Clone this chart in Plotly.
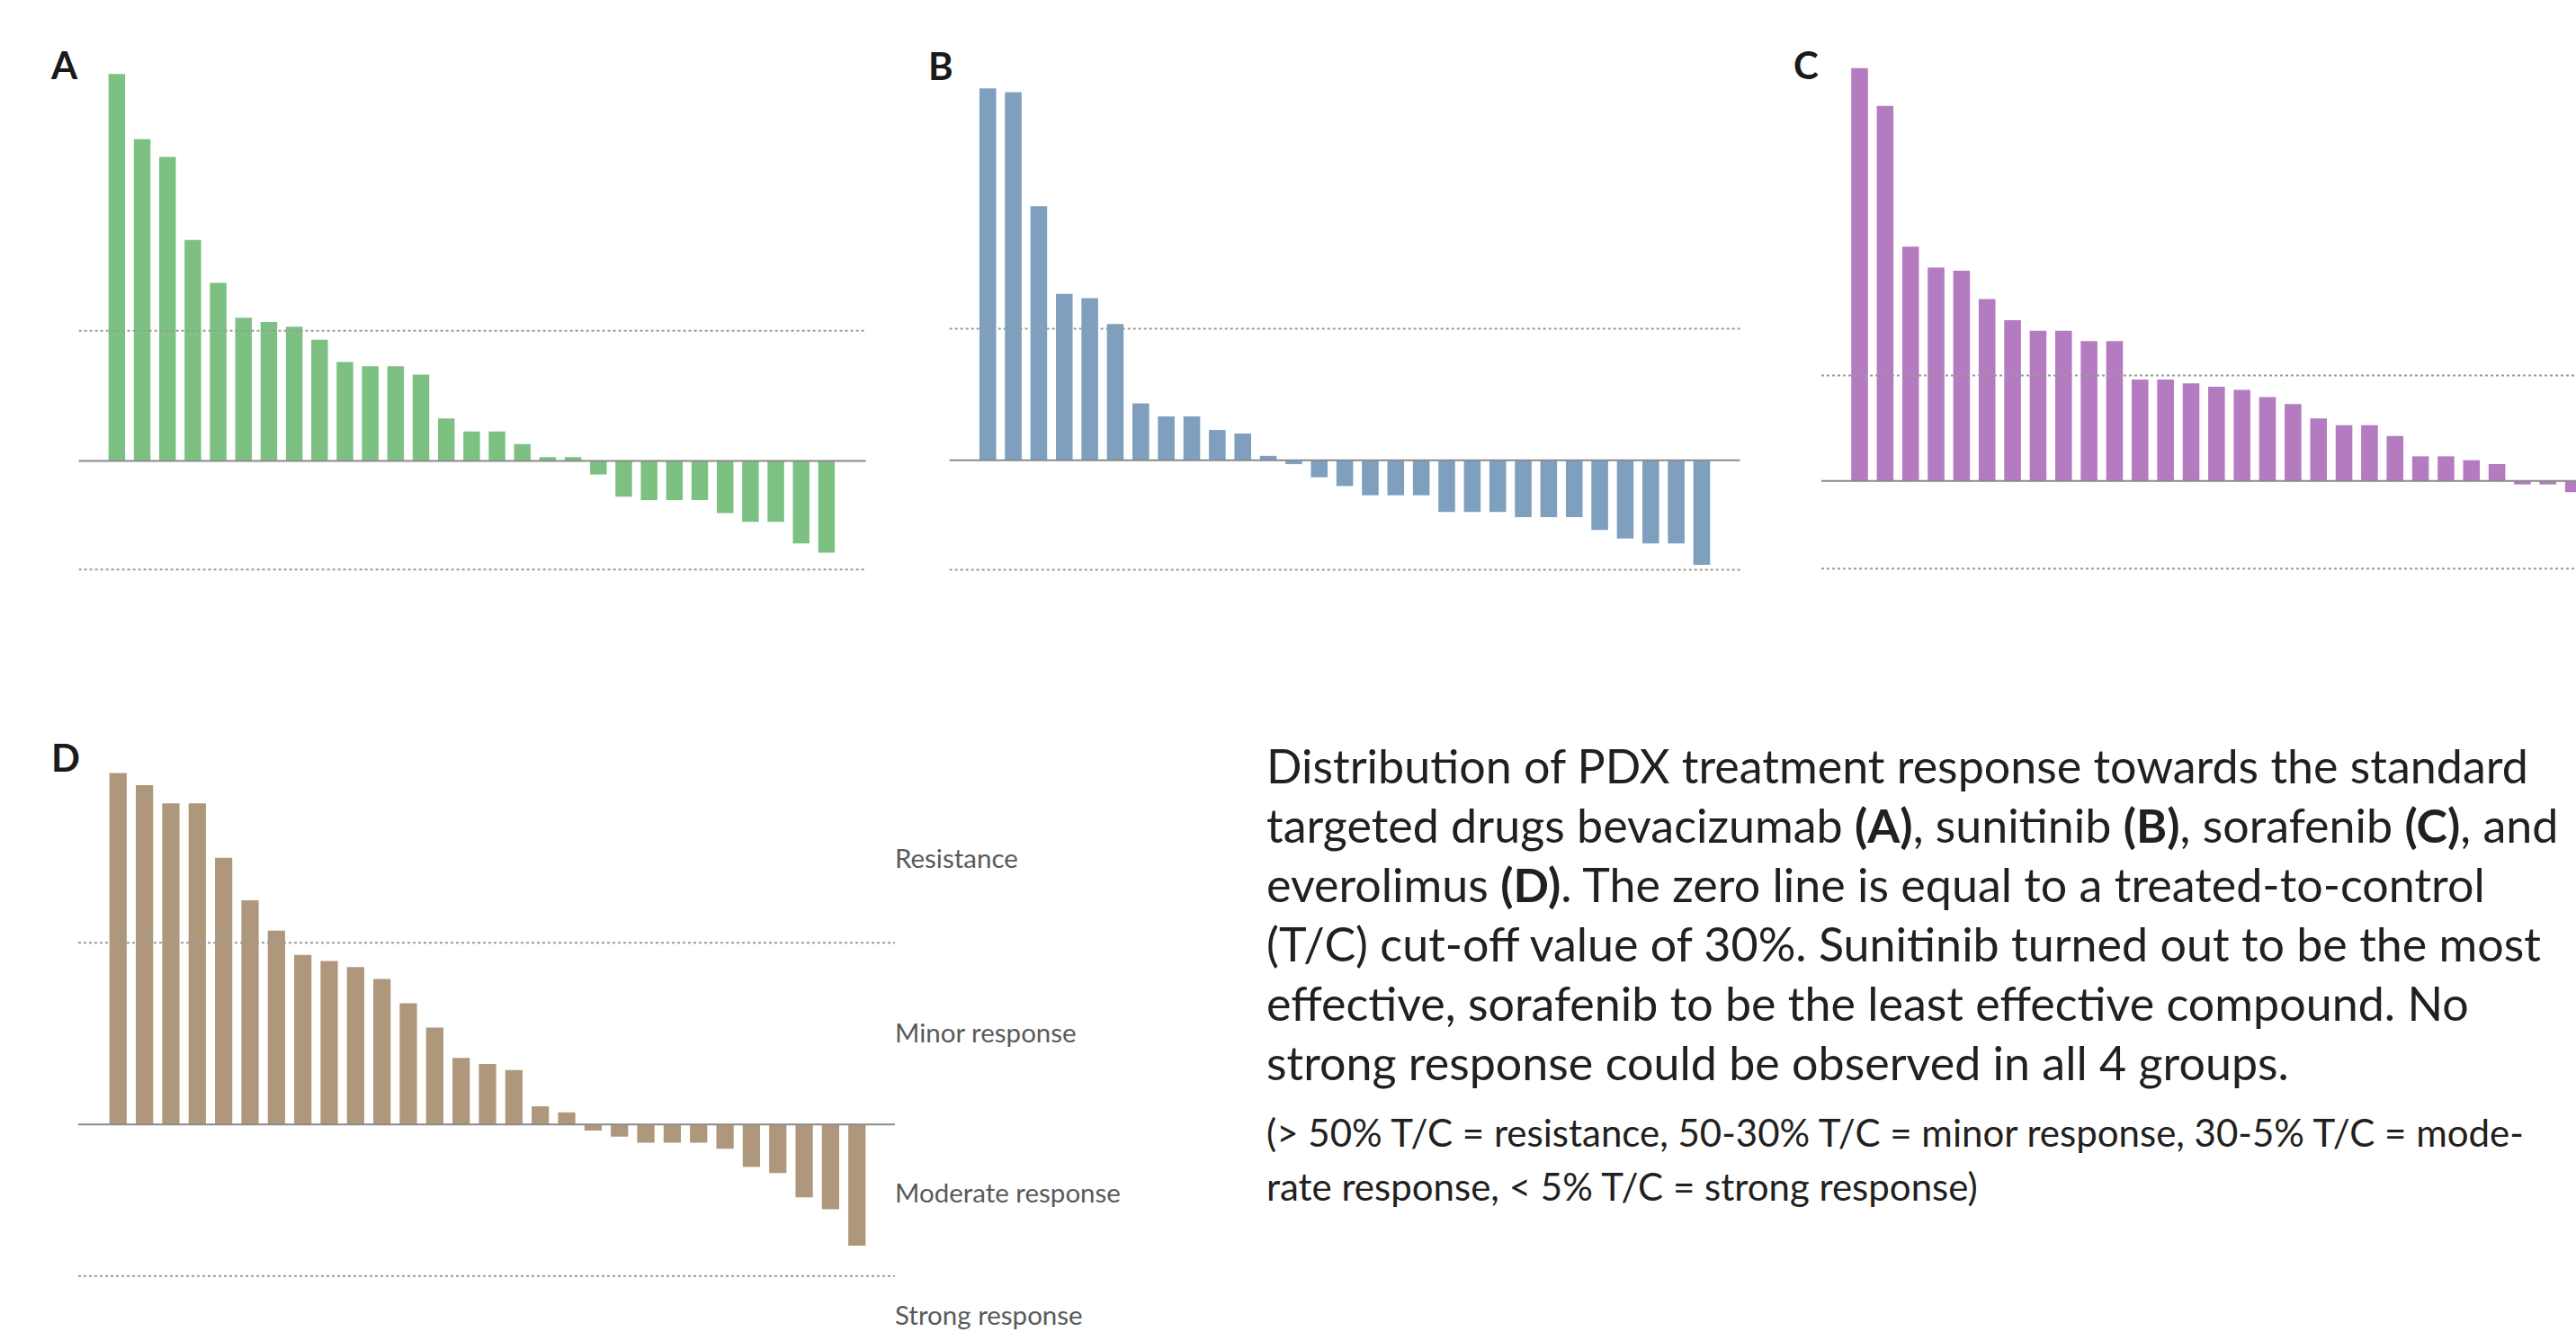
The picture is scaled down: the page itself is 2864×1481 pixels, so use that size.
import plotly.graph_objects as go

W, H = 2864, 1481

# ---- data (chart units: 0 = 30% T/C cut-off line) ----
bevacizumab = [89.1, 74.1, 70.0, 50.9, 41.0, 33.0, 32.0, 30.9, 27.9, 22.8, 21.8, 21.8, 19.9, 9.8,
               6.8, 6.8, 3.9, 0.9, 0.9, -3.1, -8.2, -9.0, -9.0, -9.0, -12.0, -14.0, -14.0, -19.0, -21.1]
sunitinib = [84.9, 84.0, 58.0, 38.0, 37.0, 31.1, 13.0, 10.0, 10.0, 6.9, 6.1, 1.0, -0.9, -3.9,
             -5.9, -8.0, -8.0, -8.0, -11.8, -11.8, -11.8, -13.0, -13.0, -13.0, -15.9, -17.9, -19.0, -19.0, -23.9]
sorafenib = [117.6, 106.8, 66.7, 60.8, 59.9, 51.8, 45.8, 42.8, 42.8, 39.8, 39.8, 28.9, 28.9, 27.8,
             26.8, 25.9, 23.9, 21.9, 17.8, 15.9, 15.9, 12.8, 7.0, 7.0, 5.9, 4.8, -1.0, -1.0, -3.2]
everolimus = [58, 56, 53, 53, 44, 37, 32, 28, 27, 26, 24, 20, 16, 11,
              10, 9, 3, 2, -1, -2, -3, -3, -3, -4, -7, -8, -12, -14, -20]

panel_letters = ["A", "B", "C", "D"]
resistance_line = 30     # 50% T/C
strong_line = -25        # 5% T/C
zone_labels = ["Resistance", "Minor response", "Moderate response", "Strong response"]

caption_lines = [
    "Distribution of PDX treatment response towards the standard",
    "targeted drugs bevacizumab <b>(A)</b>, sunitinib <b>(B)</b>, sorafenib <b>(C)</b>, and",
    "everolimus <b>(D)</b>. The zero line is equal to a treated-to-control",
    "(T/C) cut-off value of 30%. Sunitinib turned out to be the most",
    "effective, sorafenib to be the least effective compound. No",
    "strong response could be observed in all 4 groups.",
]
note_lines = [
    "(&gt; 50% T/C = resistance, 50-30% T/C = minor response, 30-5% T/C = mode-",
    "rate response, &lt; 5% T/C = strong response)",
]

# ---- layout geometry (pixels) ----
panels = [
    dict(data=bevacizumab, color="#7dc182", px=(87.6, 962.6), xr=(-1.5, 29.55), zero=512.6, k=4.83,
         py=(30, 700), letter=(71, 72)),
    dict(data=sunitinib, color="#7ea0be", px=(1055.7, 1934.5), xr=(-1.5, 29.5), zero=511.7, k=4.87,
         py=(30, 700), letter=(1046, 73)),
    dict(data=sorafenib, color="#b57bc0", px=(2025.0, 2864.0), xr=(-1.5, 28.1), zero=534.7, k=3.903,
         py=(30, 700), letter=(2008, 72)),
    dict(data=everolimus, color="#ae977a", px=(87.0, 995.0), xr=(-1.51, 29.44), zero=1250.3, k=6.737,
         py=(790, 1475), letter=(73, 842)),
]

fig = go.Figure()
shapes = []
annotations = []
layout_axes = {}

for i, p in enumerate(panels):
    n = i + 1
    xa = "x" if n == 1 else f"x{n}"
    ya = "y" if n == 1 else f"y{n}"
    xkey = "xaxis" if n == 1 else f"xaxis{n}"
    ykey = "yaxis" if n == 1 else f"yaxis{n}"
    vals = p["data"]
    fig.add_trace(go.Bar(x=list(range(len(vals))), y=vals, marker=dict(color=p["color"], line=dict(width=0)),
                         xaxis=xa, yaxis=ya, showlegend=False, hoverinfo="y"))
    top_px, bot_px = p["py"]
    ymax = (p["zero"] - top_px) / p["k"]
    ymin = (p["zero"] - bot_px) / p["k"]
    layout_axes[xkey] = dict(domain=[p["px"][0] / W, p["px"][1] / W], range=list(p["xr"]), visible=False,
                             anchor=ya, fixedrange=True)
    layout_axes[ykey] = dict(domain=[1 - bot_px / H, 1 - top_px / H], range=[ymin, ymax], visible=False,
                             anchor=xa, fixedrange=True)
    for yv in (resistance_line, strong_line):
        shapes.append(dict(type="line", xref=f"{xa} domain", yref=ya, x0=0, x1=1, y0=yv, y1=yv,
                           line=dict(color="#9a9a9a", width=2, dash="dot"), layer="above"))
    shapes.append(dict(type="line", xref=f"{xa} domain", yref=ya, x0=0, x1=1, y0=0, y1=0,
                       line=dict(color="#8a8a8a", width=2), layer="above"))
    lx, ly = p["letter"]
    annotations.append(dict(text=f"<b>{panel_letters[i]}</b>", x=lx / W, y=1 - ly / H, xref="paper", yref="paper",
                            xanchor="center", yanchor="middle", showarrow=False,
                            font=dict(family="Lato", size=42, color="#1a1a1a")))

# zone labels next to panel D
zone_y = [953, 1147, 1325, 1461]
for lab, yp in zip(zone_labels, zone_y):
    annotations.append(dict(text=lab, x=993 / W, y=1 - yp / H, xref="paper", yref="paper",
                            xanchor="left", yanchor="middle", showarrow=False,
                            font=dict(family="Lato", size=29.5, color="#5a5a5a")))

# caption
cap_y = [851, 917, 983, 1049, 1115, 1181]
for line, yp in zip(caption_lines, cap_y):
    annotations.append(dict(text=line, x=1406 / W, y=1 - yp / H, xref="paper", yref="paper",
                            xanchor="left", yanchor="middle", showarrow=False,
                            font=dict(family="Lato", size=52, color="#231f20")))
note_y = [1259, 1319]
for line, yp in zip(note_lines, note_y):
    annotations.append(dict(text=line, x=1406 / W, y=1 - yp / H, xref="paper", yref="paper",
                            xanchor="left", yanchor="middle", showarrow=False,
                            font=dict(family="Lato", size=42, color="#231f20")))

fig.update_layout(
    width=W, height=H, margin=dict(l=0, r=0, t=0, b=0),
    paper_bgcolor="white", plot_bgcolor="rgba(0,0,0,0)",
    bargap=0.345, showlegend=False,
    shapes=shapes, annotations=annotations,
    **layout_axes,
)

fig.write_html("out.html", config={"displayModeBar": False})
